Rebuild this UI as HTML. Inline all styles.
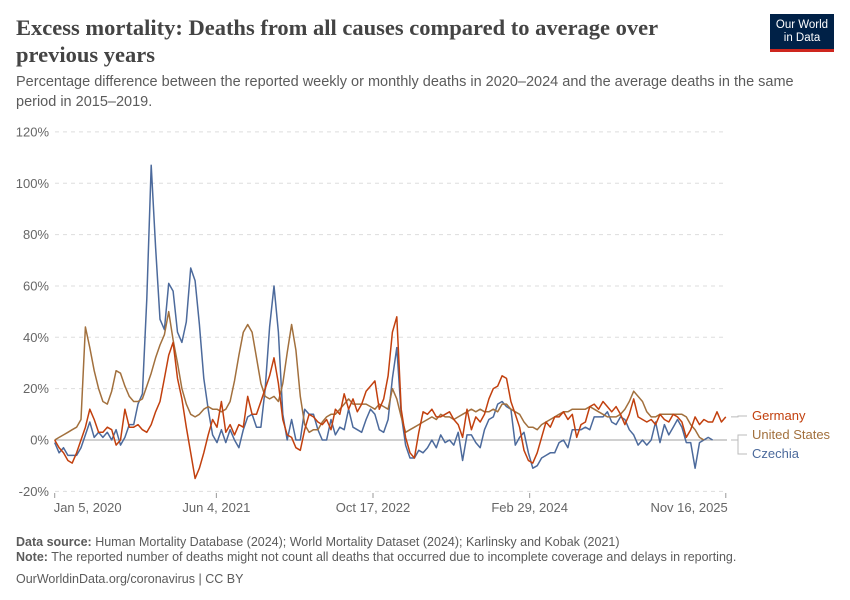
<!DOCTYPE html>
<html><head><meta charset="utf-8">
<style>
body{margin:0;width:850px;height:600px;background:#fff;font-family:"Liberation Sans",sans-serif;overflow:hidden;position:relative}
.t{position:absolute;left:16px;top:14px;width:700px;font-family:"Liberation Serif",serif;font-weight:bold;font-size:22.5px;line-height:27px;color:#444}
.s{position:absolute;left:16px;top:73px;width:800px;font-size:14.5px;line-height:19.5px;color:#5b5b5b}
.logo{position:absolute;left:770px;top:14px;width:64px;height:38px;background:#002147;color:#fff;font-size:11.5px;line-height:13px;text-align:center;box-sizing:border-box;padding-top:5px;border-bottom:3px solid #ce261e}
.f{position:absolute;left:16px;font-size:12.5px;color:#5b5b5b}
</style></head><body>
<div class="t">Excess mortality: Deaths from all causes compared to average over previous years</div>
<div class="s">Percentage difference between the reported weekly or monthly deaths in 2020–2024 and the average deaths in the same period in 2015–2019.</div>
<div class="logo">Our World<br>in Data</div>
<svg id="c" width="850" height="600" style="position:absolute;left:0;top:0"></svg>
<div class="f" style="top:535px"><b>Data source:</b> Human Mortality Database (2024); World Mortality Dataset (2024); Karlinsky and Kobak (2021)</div>
<div class="f" style="top:550px"><b>Note:</b> The reported number of deaths might not count all deaths that occurred due to incomplete coverage and delays in reporting.</div>
<div class="f" style="top:572px">OurWorldinData.org/coronavirus | CC BY</div>
<script>
const yTicks=[-20,0,20,40,60,80,100,120];
const xTickLabels=["Jan 5, 2020","Jun 4, 2021","Oct 17, 2022","Feb 29, 2024","Nov 16, 2025"];
const xTickDays=[0,516,1016,1516,2142];
const stepDays=14;
const germany=[0,-3,-5,-8,-9,-5,0,5,12,8,3,3,5,4,-2,0,12,5,5,6,4,3,6,11,15,24,33,38,24,16,5,-5,-15,-11,-5,2,8,5,15,3,6,2,6,5,17,10,10,15,20,25,32,22,8,2,1,-3,-4,4,10,9,7,6,8,4,12,10,18,12,16,11,14,19,21,23,12,16,25,42,48,12,1,-5,-7,3,11,10,12,9,9,10,11,8,6,1,12,4,9,7,10,16,20,21,25,24,15,10,5,-4,-8,-9,-5,1,7,5,9,9,11,8,10,1,6,7,13,14,12,15,13,11,13,10,6,10,16,9,8,7,8,6,10,8,7,10,9,7,1,4,9,6,8,7,7,11,7,9];
const usa=[0,1,2,3,4,5,8,44,36,27,20,15,14,19,27,26,21,17,15,15,16,21,26,32,37,41,50,39,30,20,14,10,9,10,12,13,12,12,11,12,15,23,33,42,45,42,32,22,17,16,17,15,22,34,45,35,17,6,3,4,4,7,9,10,10,12,14,16,14,14,14,14,13,12,14,13,12,20,16,9,3,4,5,6,7,8,9,8,10,9,9,8,9,10,11,12,11,12,11,11,12,11,14,14,12,11,10,7,5,5,4,6,7,8,9,10,11,11,12,12,12,12,13,12,11,10,9,9,9,10,12,15,19,17,15,11,9,9,10,10,10,10,10,10,9,6,4,1,0];
const czechia=[-1,-5,-3,-6,-6,-6,-3,2,7,1,3,1,3,0,4,-2,1,6,6,14,18,55,107,75,47,43,61,58,42,38,46,67,62,45,24,12,2,-1,4,-1,4,0,-3,4,9,10,5,5,20,44,60,42,10,0,8,0,0,12,10,10,4,0,0,8,2,5,4,12,5,4,3,8,12,10,4,3,8,24,36,10,-2,-7,-7,-4,-5,-3,0,-3,2,-1,0,-2,3,-8,2,2,-1,-3,4,8,9,14,15,13,12,-2,1,3,-5,-11,-10,-7,-6,-5,-5,-1,0,-3,4,4,4,5,4,9,9,9,11,7,6,9,8,4,2,-2,0,-2,0,7,-1,6,2,5,8,5,-1,-1,-11,-1,0,1,0];
const NS="http://www.w3.org/2000/svg";
const svg=document.getElementById('c');
const X0=54.7,PXD=0.3133,Y0=440,PXP=2.5675;
function xs(d){return X0+d*PXD}
function ys(v){return Y0-v*PXP}
function mk(t,a){const e=document.createElementNS(NS,t);for(const k in a)e.setAttribute(k,a[k]);svg.appendChild(e);return e}
yTicks.forEach(v=>{
  const l=mk('line',{x1:55,x2:727,y1:ys(v),y2:ys(v),stroke:v===0?'#a1a1a1':'#ddd','stroke-dasharray':v===0?'':'4,4','stroke-width':1});
  
  
  const t=mk('text',{x:49,y:ys(v)+4.5,'text-anchor':'end','font-size':13,fill:'#666','font-family':'Liberation Sans, sans-serif'});
  t.textContent=v+'%';
  
  
});
xTickLabels.forEach((s,i)=>{
  const x=xs(xTickDays[i]);
  const tk=mk('line',{x1:x,x2:x,y1:493,y2:498,stroke:'#999'});
  
  
  const anchor=i===0?'start':(i===xTickLabels.length-1?'end':'middle');
  const t=mk('text',{x:i===0?x-1:(i===xTickLabels.length-1?x+2:x),y:512,'text-anchor':anchor,'font-size':13,fill:'#666','font-family':'Liberation Sans, sans-serif'});
  t.textContent=s;
  
  
});
const series=[
 {name:'Czechia',data:czechia,color:'#4c6a9c',ly:458},
 {name:'United States',data:usa,color:'#a2703d',ly:439},
 {name:'Germany',data:germany,color:'#c2400e',ly:420}
];
series.forEach(s=>{
  const d=s.data.map((v,i)=>(i?'L':'M')+xs(i*stepDays).toFixed(1)+' '+ys(v).toFixed(1)).join(' ');
  const p=mk('path',{d:d,fill:'none',stroke:s.color,'stroke-width':1.5,'stroke-linejoin':'round'});
  
  
  const lastY=ys(s.data[s.data.length-1]);
  const c=mk('path',{d:`M731 ${lastY.toFixed(1)} H738 V${s.ly-4} H747`,fill:'none',stroke:'#bbb','stroke-width':1});
  
  
  const t=mk('text',{x:752,y:s.ly,'font-size':13,fill:s.color,'font-family':'Liberation Sans, sans-serif'});
  t.textContent=s.name;
  
  
});
</script>
</body></html>
